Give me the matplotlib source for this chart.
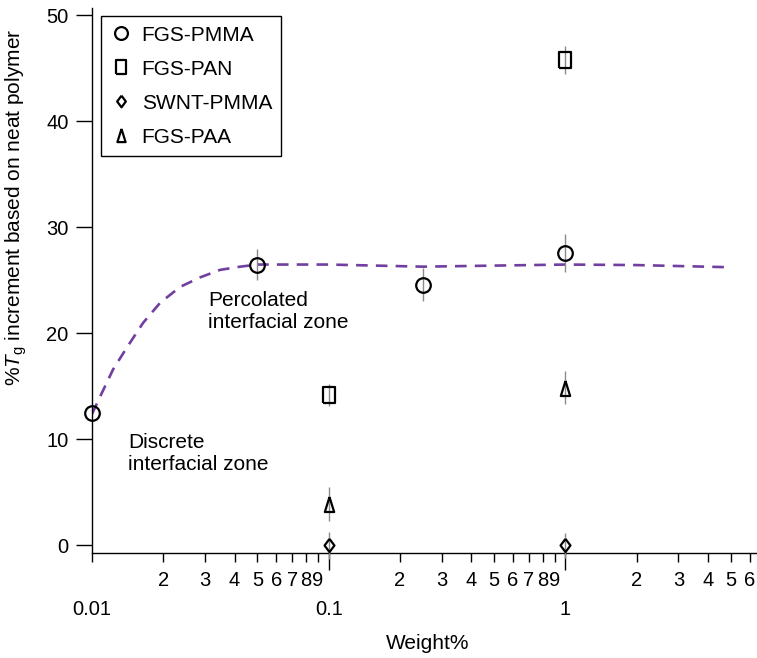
import matplotlib
matplotlib.use("Agg")
import matplotlib.pyplot as plt
from matplotlib.ticker import FixedLocator, FixedFormatter

plt.rcParams['font.family'] = ['Liberation Sans', 'DejaVu Sans']
plt.rcParams['mathtext.fontset'] = 'custom'
plt.rcParams['mathtext.rm'] = 'Liberation Sans'
plt.rcParams['mathtext.it'] = 'Liberation Sans:italic'

# ---- data ----
pmma_x = [0.01, 0.05, 0.25, 1.0]
pmma_y = [12.5, 26.5, 24.6, 27.6]
pmma_err = [0.0, 1.5, 1.55, 1.8]

pan_x = [0.1, 1.0]
pan_y = [14.2, 45.8]
pan_err = [1.0, 1.3]

swnt_x = [0.1, 1.0]
swnt_y = [0.0, 0.0]
swnt_err = [1.3, 1.2]

paa_x = [0.1, 1.0]
paa_y = [3.9, 14.9]
paa_err = [1.6, 1.6]

curve_x = [0.01, 0.0108, 0.01227, 0.01406, 0.01644, 0.01941, 0.0236, 0.0287,
           0.0348, 0.0423, 0.0499, 0.1, 0.25, 0.5, 1.0, 2.0, 4.86]
curve_y = [12.4, 14.0, 16.6, 18.7, 21.0, 22.9, 24.4, 25.3,
           26.0, 26.3, 26.5, 26.5, 26.3, 26.4, 26.5, 26.45, 26.25]

major_ticks = [0.01, 0.1, 1.0]
major_labels = ['0.01', '0.1', '1']
minor_ticks = [0.02, 0.03, 0.04, 0.05, 0.06, 0.07, 0.08, 0.09,
               0.2, 0.3, 0.4, 0.5, 0.6, 0.7, 0.8, 0.9,
               2, 3, 4, 5, 6]
minor_labels = ['2', '3', '4', '5', '6', '7', '8', '9',
                '2', '3', '4', '5', '6', '7', '8', '9',
                '2', '3', '4', '5', '6']
y_ticks = [0, 10, 20, 30, 40, 50]

legend_labels = ['FGS-PMMA', 'FGS-PAN', 'SWNT-PMMA', 'FGS-PAA']

# ---- markers ----
sq_marker = [(-0.77, -1), (0.77, -1), (0.77, 1), (-0.77, 1), (-0.77, -1)]
dia_marker = [(0, 1), (0.75, 0), (0, -1), (-0.75, 0), (0, 1)]
tri_marker = [(0, 1), (0.62, -1), (-0.62, -1), (0, 1)]

fig = plt.figure(figsize=(7.57, 6.58), dpi=100)
ax = fig.add_axes([92/757, 105/658, 665/757, 545/658])

ax.set_xscale('log')
ax.set_xlim(0.01, 6.44)
ax.set_ylim(-0.71, 50.7)

# curve
ax.plot(curve_x, curve_y, color='#703f9f', lw=1.9, ls=(0, (4.4, 3.1)), zorder=2,
        dash_capstyle='butt')

ecol = '#8a8a8a'
for xs, ys, es in [(pmma_x, pmma_y, pmma_err), (pan_x, pan_y, pan_err),
                   (swnt_x, swnt_y, swnt_err), (paa_x, paa_y, paa_err)]:
    eb = ax.errorbar(xs, ys, yerr=es, fmt='none', ecolor=ecol, elinewidth=1.0,
                     capsize=0, zorder=3)
    for c in eb.lines[2]:
        c.set_clip_on(False)

mk = dict(ls='none', mfc='none', mec='black', mew=1.6, zorder=4, clip_on=False)
h1, = ax.plot(pmma_x, pmma_y, marker='o', ms=10.5, label=legend_labels[0], **mk)
h2, = ax.plot(pan_x, pan_y, marker=sq_marker, ms=11.5, label=legend_labels[1], **mk)
h3, = ax.plot(swnt_x, swnt_y, marker=dia_marker, ms=9.5, label=legend_labels[2], **mk)
h4, = ax.plot(paa_x, paa_y, marker=tri_marker, ms=10.8, label=legend_labels[3], **mk)

leg = ax.legend(handles=[h1, h2, h3, h4], loc='upper left',
                bbox_to_anchor=(0.0135, 0.985), borderaxespad=0,
                fontsize=15, frameon=True, fancybox=False, framealpha=1,
                edgecolor='black', handlelength=1.0, handletextpad=0.5,
                labelspacing=0.72, borderpad=0.45, markerscale=0.88)
leg.get_frame().set_linewidth(1.0)

# spines
for s in ['top', 'right']:
    ax.spines[s].set_visible(False)
for s in ['left', 'bottom']:
    ax.spines[s].set_linewidth(1.0)

# ticks
ax.xaxis.set_major_locator(FixedLocator(major_ticks))
ax.xaxis.set_major_formatter(FixedFormatter(major_labels))
ax.xaxis.set_minor_locator(FixedLocator(minor_ticks))
ax.xaxis.set_minor_formatter(FixedFormatter(minor_labels))
ax.set_yticks(y_ticks)
ax.set_yticklabels([str(v) for v in y_ticks])

ax.tick_params(axis='x', which='major', direction='out', length=12, width=1.0,
               pad=22, labelsize=14.5)
ax.tick_params(axis='x', which='minor', direction='out', length=6.5, width=1.0,
               pad=6.5, labelsize=14.5)
ax.tick_params(axis='y', which='major', direction='out', length=11.5, width=1.0,
               pad=5.5, labelsize=14.5)
ax.tick_params(axis='y', which='minor', left=False)

# shorter first major tick (0.01)
ax.xaxis.get_major_ticks()[0].tick1line.set_markersize(6.5)

# annotations
ax.text(0.0309, 24.0, 'Percolated\ninterfacial zone', fontsize=15,
        ha='left', va='top', linespacing=1.2)
ax.text(0.01424, 10.6, 'Discrete\ninterfacial zone', fontsize=15,
        ha='left', va='top', linespacing=1.2)

fig.text(428/757, 0.037, 'Weight%', fontsize=15, ha='center', va='top')
fig.text(16/757, (658-207)/658, r'%$T_\mathrm{g}$ increment based on neat polymer',
         fontsize=15, rotation=90, ha='center', va='center')

fig.savefig('out.png', dpi=100)
